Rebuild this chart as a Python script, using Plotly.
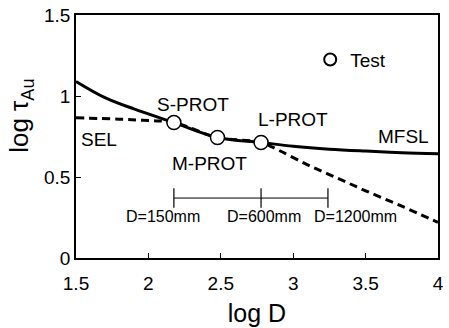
import plotly.graph_objects as go

# ---- data ----
mfsl_x = [1.5, 1.7, 1.9, 2.176, 2.477, 2.778, 3.0, 3.25, 3.5, 3.75, 4.0]
mfsl_y = [1.09, 0.99, 0.92, 0.836, 0.744, 0.713, 0.69, 0.672, 0.66, 0.65, 0.643]

sel_x = [1.5, 1.8, 2.0, 2.176, 2.477, 2.778, 2.9, 3.1, 3.3, 3.5, 3.75, 4.0]
sel_y = [0.865, 0.857, 0.848, 0.836, 0.744, 0.713, 0.665, 0.575, 0.495, 0.415, 0.32, 0.22]

test_x = [2.176, 2.477, 2.778]
test_y = [0.836, 0.744, 0.713]
test_names = ["S-PROT", "M-PROT", "L-PROT"]

scale_x = [2.176, 2.778, 3.24]
scale_y = [0.37, 0.37, 0.37]
scale_labels = ["D=150mm", "D=600mm", "D=1200mm"]

curve_labels = ["S-PROT", "M-PROT", "L-PROT", "MFSL", "SEL"]
curve_label_x = [2.31, 2.42, 3.0, 3.76, 1.66]
curve_label_y = [0.95, 0.584, 0.854, 0.75, 0.73]

x_ticks = [1.5, 2, 2.5, 3, 3.5, 4]
x_ticktext = ["1.5", "2", "2.5", "3", "3.5", "4"]
y_ticks = [0, 0.5, 1, 1.5]
y_ticktext = ["0", "0.5", "1", "1.5"]

FONT = "Liberation Sans, Arial, sans-serif"

fig = go.Figure()

fig.add_trace(go.Scatter(x=mfsl_x, y=mfsl_y, mode="lines", line=dict(color="black", width=3, shape="spline"),
                         showlegend=False, hoverinfo="skip"))
fig.add_trace(go.Scatter(x=sel_x, y=sel_y, mode="lines",
                         line=dict(color="black", width=3, dash="8px,5px", shape="spline"),
                         showlegend=False, hoverinfo="skip"))
fig.add_trace(go.Scatter(x=scale_x, y=scale_y, mode="lines+markers",
                         line=dict(color="black", width=1),
                         marker=dict(symbol="line-ns", size=14, line=dict(color="black", width=1.2)),
                         showlegend=False, hoverinfo="skip"))
fig.add_trace(go.Scatter(x=test_x, y=test_y, mode="markers", name="Test",
                         marker=dict(symbol="circle", size=14, color="white",
                                     line=dict(color="black", width=1.5)),
                         text=test_names, showlegend=True))

annotations = []
for t, x, y in zip(curve_labels, curve_label_x, curve_label_y):
    annotations.append(dict(x=x, y=y, text=t, showarrow=False,
                            font=dict(family=FONT, size=19, color="black")))
for t, x in zip(scale_labels, [2.10, 2.80, 3.43]):
    annotations.append(dict(x=x, y=0.258, text=t, showarrow=False,
                            font=dict(family=FONT, size=16, color="black")))
# y-axis title placed as annotation (reference title sits above the axis centre)
annotations.append(dict(xref="paper", yref="paper", x=0, y=0.585, xshift=-55,
                        xanchor="center", yanchor="middle", textangle=-90,
                        text="log τ<sub>Au</sub>", showarrow=False,
                        font=dict(family=FONT, size=26, color="black")))

fig.update_layout(
    width=449, height=328,
    margin=dict(l=76, r=5, t=15, b=69),
    paper_bgcolor="white", plot_bgcolor="white",
    font=dict(family=FONT, color="black", size=19),
    annotations=annotations,
    legend=dict(x=0.647, y=0.816, xanchor="left", yanchor="middle",
                bgcolor="rgba(0,0,0,0)", font=dict(size=19),
                itemsizing="constant", itemwidth=30),
)
fig.update_xaxes(range=[1.5, 4], tickvals=x_ticks, ticktext=x_ticktext,
                 ticks="inside", ticklen=5, tickwidth=1.2, tickcolor="black",
                 showline=True, linecolor="black", linewidth=1.5, mirror=True,
                 showgrid=False, zeroline=False,
                 tickfont=dict(size=19), ticklabelstandoff=7,
                 title=dict(text="log D", font=dict(size=25), standoff=12))
fig.update_yaxes(range=[0, 1.5], tickvals=y_ticks, ticktext=y_ticktext,
                 ticks="inside", ticklen=5, tickwidth=1.2, tickcolor="black",
                 showline=True, linecolor="black", linewidth=1.5, mirror=True,
                 showgrid=False, zeroline=False,
                 tickfont=dict(size=19))

fig.write_html("out.html")
